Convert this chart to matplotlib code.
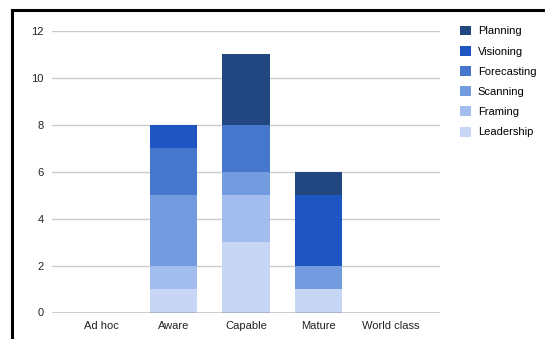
import matplotlib.pyplot as plt
from matplotlib.patches import Patch
from matplotlib.lines import Line2D

plt.rcParams['font.family'] = ['Liberation Sans', 'DejaVu Sans']

stages = ['Ad hoc', 'Aware', 'Capable', 'Mature', 'World class']
# stacked bottom to top
leadership = [0, 1, 3, 1, 0]
framing = [0, 1, 2, 0, 0]
scanning = [0, 3, 1, 1, 0]
forecasting = [0, 2, 2, 0, 0]
visioning = [0, 1, 0, 3, 0]
planning = [0, 0, 3, 1, 0]

series = [
    ('Leadership', leadership, '#c6d6f4'),
    ('Framing', framing, '#a3bdee'),
    ('Scanning', scanning, '#739ce0'),
    ('Forecasting', forecasting, '#4677cc'),
    ('Visioning', visioning, '#1f55c1'),
    ('Planning', planning, '#22467f'),
]

W, H = 545, 339
fig = plt.figure(figsize=(W / 100, H / 100), dpi=100)
ax = fig.add_axes([52 / W, (H - 312.5) / H, 388 / W, 281.5 / H])

x = list(range(len(stages)))
bottom = [0] * len(stages)
for name, vals, col in series:
    ax.bar(x, vals, bottom=bottom, width=0.65, color=col, edgecolor='none', zorder=2)
    bottom = [b + v for b, v in zip(bottom, vals)]

ax.set_ylim(0, 12)
ax.set_yticks(range(0, 13, 2))
ax.set_xlim(-0.676, 4.676)
ax.set_xticks(x)
ax.set_xticklabels(stages)
ax.grid(axis='y', color='#cccccc', linewidth=1, zorder=0)
ax.axhline(0, color='#333333', linewidth=1, zorder=3)
for s in ax.spines.values():
    s.set_visible(False)
ax.tick_params(length=0, labelsize=8, colors='#222222', pad=6)
ax.tick_params(axis='y', pad=6)

handles = [Patch(facecolor=col, edgecolor='none') for _, _, col in series[::-1]]
labels = [name for name, _, _ in series[::-1]]
fig.legend(handles, labels, loc='upper left', bbox_to_anchor=(459.5 / W, 1 - 25.5 / H),
           frameon=False, fontsize=8, handlelength=1.0, handleheight=1.0,
           handletextpad=0.65, labelspacing=0.85, borderaxespad=0, borderpad=0)

# frame lines on top and left
fig.add_artist(Line2D([11.5 / W, 1], [1 - 9.5 / H, 1 - 9.5 / H], color='black', linewidth=2.2))
fig.add_artist(Line2D([11.5 / W, 11.5 / W], [0, 1 - 9.5 / H], color='black', linewidth=2.2))

fig.savefig('out.png', dpi=100)
